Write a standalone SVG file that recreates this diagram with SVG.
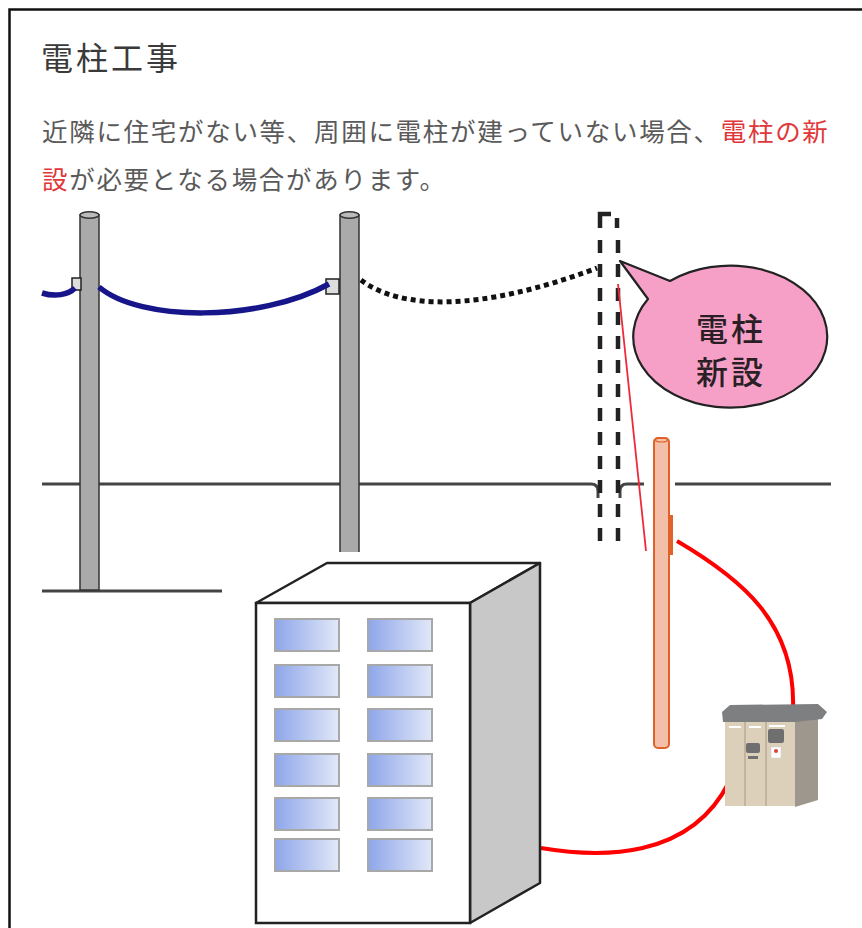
<svg xmlns="http://www.w3.org/2000/svg" width="862" height="928" viewBox="0 0 862 928">
  <defs>
    <style>
      .jp { font-family: "Noto Sans CJK JP", "Noto Sans", sans-serif; }
      .title { font-size: 32px; fill: #3a3a3a; letter-spacing: 3px; }
      .para { font-size: 25.5px; fill: #5a5a5a; letter-spacing: 1.7px; }
      .em { fill: #e0383a; }
      .pole { fill: #aaaaaa; stroke: #333; stroke-width: 1.5; }
      .ground { stroke: #444; stroke-width: 3; fill: none; }
      .dash-pole { stroke: #222; stroke-width: 4.5; fill: none; stroke-dasharray: 13 11; }
      .window { stroke: #a8a8a8; stroke-width: 2; fill: url(#glass); }
      .feed { stroke: #ff0000; stroke-width: 4; fill: none; }
      .bubble-text { font-size: 32px; font-weight: 500; fill: #2a1f24; letter-spacing: 3px; }
    </style>
    <linearGradient id="glass" x1="0" y1="0" x2="1" y2="0">
      <stop offset="0" stop-color="#8ea6ea"/>
      <stop offset="1" stop-color="#e2e8f8"/>
    </linearGradient>
  </defs>

  <rect width="862" height="928" fill="#ffffff"/>
  <!-- frame -->
  <path d="M9.5,928 V9.5 H862" fill="none" stroke="#111" stroke-width="2.5"/>

  <!-- heading and description -->
  <g id="heading">
    <text class="jp title" x="41" y="70">電柱工事</text>
    <text class="jp para" x="42" y="141">近隣に住宅がない等、周囲に電柱が建っていない場合、<tspan class="em">電柱の新</tspan></text>
    <text class="jp para" x="42" y="189"><tspan class="em">設</tspan>が必要となる場合があります。</text>
  </g>

  <!-- ground lines -->
  <g id="ground">
    <path class="ground" d="M42,484 H591 Q598,484 598,491 V498"/>
    <path class="ground" d="M620,498 V491 Q620,484 627,484 H644"/>
    <path class="ground" d="M675,484 H831"/>
    <path class="ground" d="M42,591 H222"/>
  </g>

  <!-- existing poles -->
  <g id="pole-1">
    <rect class="pole" x="80" y="215" width="19" height="375"/>
    <ellipse cx="89.5" cy="215" rx="9.5" ry="3.2" fill="#bbb" stroke="#333" stroke-width="1.5"/>
    <rect x="72" y="278" width="9" height="12" fill="#ddd" stroke="#222" stroke-width="1.5"/>
  </g>
  <g id="pole-2">
    <path class="pole" d="M340,552 V215 H359 V552"/>
    <ellipse cx="349.5" cy="215" rx="9.5" ry="3.2" fill="#bbb" stroke="#333" stroke-width="1.5"/>
    <rect x="326" y="279" width="13" height="15" fill="#ddd" stroke="#222" stroke-width="1.5"/>
  </g>

  <!-- planned pole (dashed outline) -->
  <g id="pole-new">
    <path d="M600,228 V214 H611" fill="none" stroke="#222" stroke-width="4.5"/>
    <path d="M617,218 V228" fill="none" stroke="#222" stroke-width="4.5"/>
    <line class="dash-pole" x1="600" y1="240" x2="600" y2="550"/>
    <line class="dash-pole" x1="618" y1="240" x2="618" y2="550"/>
  </g>

  <!-- connectors -->
  <g id="connectors">
    <path d="M42,293 C55,297 68,295 75,288" fill="none" stroke="#16168a" stroke-width="5.5"/>
    <path d="M99,287 C140,322 260,322 329,284" fill="none" stroke="#16168a" stroke-width="5.5"/>
    <path d="M361,280 C400,310 480,312 597,268" fill="none" stroke="#111" stroke-width="5" stroke-dasharray="5 4"/>
    <line x1="618" y1="284" x2="646" y2="551" stroke="#ee2a3a" stroke-width="1.8"/>
    <path class="feed" d="M677,541 C740,578 796,622 793,709"/>
    <path class="feed" d="M541,848 C600,858 690,860 729,782"/>
  </g>

  <!-- speech bubble -->
  <g id="callout">
    <path d="M620,261 L670,281 A97,71 0 1 1 648,299 Z" fill="#f6a0c8" stroke="#222" stroke-width="2.2" stroke-linejoin="round"/>
    <text class="jp bubble-text" x="731" y="341" text-anchor="middle">電柱</text>
    <text class="jp bubble-text" x="731" y="384" text-anchor="middle">新設</text>
  </g>

  <!-- service pole -->
  <g id="service-pole">
    <rect x="654" y="438" width="15" height="310" rx="4" fill="#f4bfa8" stroke="#e0622a" stroke-width="2"/>
    <ellipse cx="661.5" cy="440" rx="6" ry="2" fill="none" stroke="#e0622a" stroke-width="1.2"/>
    <rect x="669" y="515" width="4" height="40" fill="#e0622a"/>
  </g>

  <!-- pad-mounted transformer -->
  <g id="transformer">
    <polygon points="795,718 818,712 818,800 795,807" fill="#9e978d"/>
    <rect x="725" y="720" width="70" height="86" fill="#dcd0ba"/>
    <line x1="745" y1="722" x2="745" y2="806" stroke="#b9ad96" stroke-width="1.5"/>
    <line x1="766" y1="722" x2="766" y2="806" stroke="#b9ad96" stroke-width="1.5"/>
    <polygon points="722,712 730,705 818,704 827,712 822,719 795,722 723,722" fill="#7d7f80"/>
    <rect x="729" y="726" width="12" height="2" fill="#fff"/>
    <rect x="749" y="726" width="12" height="2" fill="#fff"/>
    <rect x="769" y="725" width="16" height="2" fill="#fff"/>
    <rect x="768" y="729" width="16" height="14" rx="2" fill="#6f6f70"/>
    <rect x="746" y="743" width="14" height="10" rx="2" fill="#6f6f70"/>
    <rect x="748" y="756" width="10" height="3" fill="#6f6f70"/>
    <rect x="771" y="747" width="10" height="11" fill="#fff" stroke="#ccc" stroke-width="0.5"/>
    <circle cx="776" cy="751" r="2" fill="#e04040"/>
  </g>

  <!-- building -->
  <g id="building">
    <polygon points="256,603 327,563 540,563 470,603" fill="#fff" stroke="#222" stroke-width="2.5" stroke-linejoin="round"/>
    <polygon points="470,603 540,563 540,883 470,923" fill="#c8c8c8" stroke="#222" stroke-width="2.5" stroke-linejoin="round"/>
    <rect x="256" y="603" width="214" height="320" fill="#fff" stroke="#222" stroke-width="2.5"/>
    <rect class="window" x="275" y="619" width="64" height="32"/>
    <rect class="window" x="368" y="619" width="64" height="32"/>
    <rect class="window" x="275" y="665" width="64" height="32"/>
    <rect class="window" x="368" y="665" width="64" height="32"/>
    <rect class="window" x="275" y="709" width="64" height="32"/>
    <rect class="window" x="368" y="709" width="64" height="32"/>
    <rect class="window" x="275" y="754" width="64" height="32"/>
    <rect class="window" x="368" y="754" width="64" height="32"/>
    <rect class="window" x="275" y="798" width="64" height="32"/>
    <rect class="window" x="368" y="798" width="64" height="32"/>
    <rect class="window" x="275" y="839" width="64" height="32"/>
    <rect class="window" x="368" y="839" width="64" height="32"/>
  </g>
</svg>
